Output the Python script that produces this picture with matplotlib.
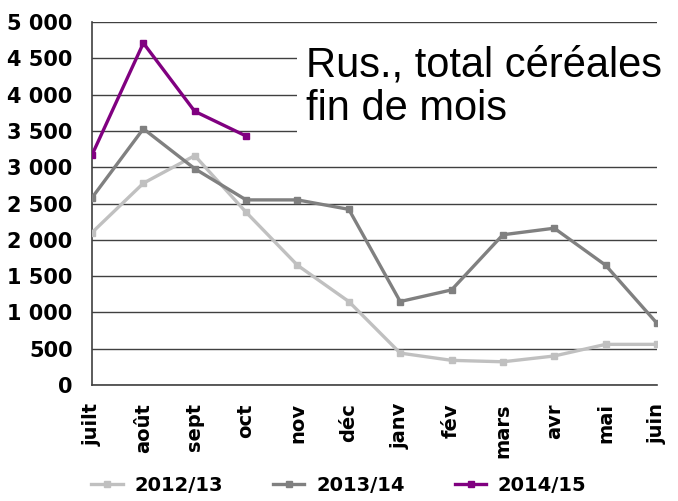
import matplotlib
matplotlib.use("Agg")
import matplotlib.pyplot as plt
import numpy as np

months = ["juilt", "août", "sept", "oct", "nov", "déc", "janv", "fév", "mars", "avr", "mai", "juin"]
s2012 = [2100, 2780, 3160, 2380, 1650, 1150, 440, 340, 320, 400, 560, 560]
s2013 = [2580, 3530, 2980, 2550, 2550, 2420, 1150, 1310, 2070, 2160, 1650, 850]
s2014 = [3170, 4710, 3770, 3430]
labels = ["2012/13", "2013/14", "2014/15"]
colors = ["#c0c0c0", "#808080", "#800080"]

plt.rcParams['font.family'] = ['DejaVu Sans']

fig = plt.figure(figsize=(6.78, 5.01), dpi=100)
ax = fig.add_axes([0.1357, 0.2315, 0.969 - 0.1357, 0.956 - 0.2315])

x = np.arange(len(months))
handles = []
for data, lab, c in zip([s2012, s2013, s2014], labels, colors):
    h, = ax.plot(x[:len(data)], data, color=c, lw=2.4, marker='s', ms=5, label=lab, zorder=3)
    handles.append(h)

ax.set_xlim(0, 11)
ax.set_ylim(0, 5000)
ax.set_yticks(np.arange(0, 5001, 500))
ax.set_yticklabels([f"{v:,}".replace(",", " ") for v in range(0, 5001, 500)],
                   fontsize=15, fontweight='bold')
ax.set_xticks(x)
ax.set_xticklabels(months, rotation=90, fontsize=14, fontweight='bold')
ax.tick_params(axis='y', length=0, pad=14)
ax.tick_params(axis='x', length=0, pad=13)
ax.yaxis.grid(True, color='#404040', lw=1)
ax.set_axisbelow(True)
for s in ['top', 'right']:
    ax.spines[s].set_visible(False)
for s in ['left', 'bottom']:
    ax.spines[s].set_color('#404040')
    ax.spines[s].set_linewidth(1.2)

ax.text(0.378, 0.935, "Rus., total céréales\nfin de mois", transform=ax.transAxes,
        fontsize=30, va='top', ha='left', linespacing=1.12, family='Liberation Sans',
        bbox=dict(facecolor='white', edgecolor='none', pad=6), zorder=2, clip_on=False)

fig.legend(handles=handles, loc='lower center', bbox_to_anchor=(0.5, -0.022), ncol=3,
           frameon=False, prop={'size': 14, 'weight': 'bold'}, columnspacing=2.6,
           handlelength=1.6, handletextpad=0.6)

fig.savefig("out.png", dpi=100)
